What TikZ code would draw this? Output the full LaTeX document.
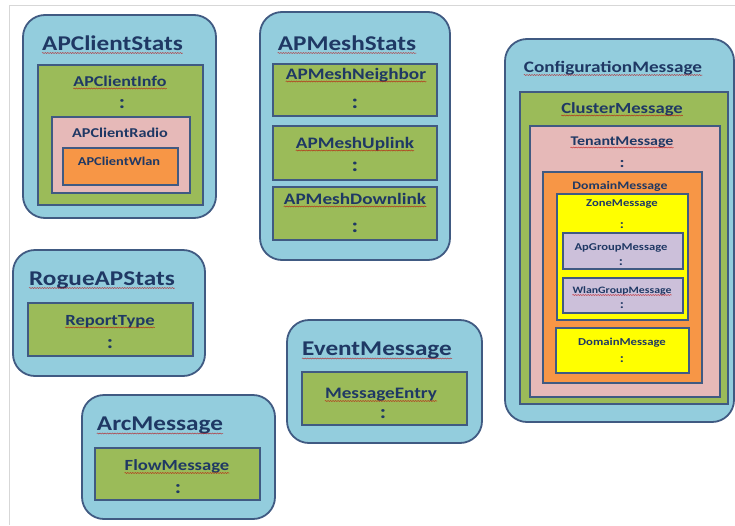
\documentclass[tikz,border=0pt]{standalone}
\usepackage{fontspec}
\setmainfont{Carlito}[FakeStretch=1.2]
\usetikzlibrary{fit,decorations.pathmorphing}
\definecolor{cBlue}{RGB}{147,205,221}
\definecolor{cGreen}{RGB}{155,187,89}
\definecolor{cPink}{RGB}{230,185,184}
\definecolor{cOrange}{RGB}{247,150,70}
\definecolor{cYellow}{RGB}{255,255,0}
\definecolor{cLav}{RGB}{204,192,218}
\definecolor{cEdge}{RGB}{64,90,130}
\definecolor{cText}{RGB}{31,56,100}
\definecolor{cFrame}{RGB}{215,215,215}
\tikzset{
  outerbox/.style={draw=cEdge, line width=1.8pt, fill=cBlue, rounded corners=22pt, inner sep=0pt},
  greenbox/.style={draw=cEdge, line width=1.6pt, fill=cGreen, inner sep=0pt},
  pinkbox/.style={draw=cEdge, line width=1.6pt, fill=cPink, inner sep=0pt},
  orangebox/.style={draw=cEdge, line width=1.6pt, fill=cOrange, inner sep=0pt},
  yellowbox/.style={draw=cEdge, line width=1.6pt, fill=cYellow, inner sep=0pt},
  lavbox/.style={draw=cEdge, line width=1.6pt, fill=cLav, inner sep=0pt},
  fs/.style={font=\fontsize{#1}{#1}\selectfont\bfseries, text=cText, inner sep=0pt, anchor=base},
  squig/.style={draw=red!75!black, line width=0.5pt, opacity=0.7,
    decorate, decoration={snake, amplitude=0.5pt, segment length=2.5pt}}
}
\newcommand\bx[6]{\node[#2, fit={(#3,#4)(#5,#6)}] (#1) {};}
\newcommand\sq[2]{\draw[squig] ([yshift=-#2pt]#1.base west) -- ([yshift=-#2pt]#1.base east);}
\begin{document}
\begin{tikzpicture}[x=1pt,y=-1pt]
\useasboundingbox (0,0) rectangle (735,525);
\fill[white] (0,0) rectangle (735,525);
% frame lines
\coordinate (f1) at (9,525);
\coordinate (f2) at (9,5);
\coordinate (f3) at (735,5);
\draw[cFrame, line width=1pt] (f1) -- (f2) -- (f3);

% APClientStats
\bx{acs}{outerbox}{23}{15}{216}{218}
\bx{aci}{greenbox}{38}{65}{203}{205}
\bx{acr}{pinkbox}{52}{117}{190}{193}
\bx{acw}{orangebox}{63}{148}{178}{185}
\node[fs=21] (tacs) at (112.5,50) {APClientStats};
\node[fs=15] (taci) at (120,86) {APClientInfo};
\node[fs=19] (caci) at (122,108) {:};
\node[fs=13.5] (tacr) at (120,137) {APClientRadio};
\node[fs=12] (tacw) at (119,165) {APClientWlan};
\sq{tacs}{3}\sq{taci}{2.5}

% APMeshStats
\bx{ams}{outerbox}{260}{12}{450}{260}
\bx{amn}{greenbox}{273}{64}{437}{116}
\bx{amu}{greenbox}{273}{126}{437}{180}
\bx{amd}{greenbox}{273}{187}{437}{240}
\node[fs=21] (tams) at (347,50) {APMeshStats};
\node[fs=16] (tamn) at (356,79) {APMeshNeighbor};
\node[fs=20] (camn) at (355,108) {:};
\node[fs=16] (tamu) at (355,148) {APMeshUplink};
\node[fs=20] (camu) at (355,171) {:};
\node[fs=16] (tamd) at (355,204) {APMeshDownlink};
\node[fs=20] (camd) at (355,232) {:};
\sq{tams}{3}\sq{tamn}{2.5}\sq{tamu}{2.5}\sq{tamd}{2.5}

% ConfigurationMessage
\bx{cfg}{outerbox}{505}{39}{734}{422}
\bx{clu}{greenbox}{520}{92}{728}{404}
\bx{ten}{pinkbox}{530}{126}{720}{397}
\bx{dom}{orangebox}{543}{172}{702}{383}
\bx{zon}{yellowbox}{557}{194}{688}{320}
\bx{apg}{lavbox}{563}{233}{683}{269}
\bx{wlg}{lavbox}{563}{278}{683}{313}
\bx{dm2}{yellowbox}{556}{328}{689}{373}
\node[fs=16] (tcfg) at (613,72) {ConfigurationMessage};
\node[fs=15.5] (tclu) at (622,113) {ClusterMessage};
\node[fs=13.3] (tten) at (622,145) {TenantMessage};
\node[fs=15] (cten) at (622,167) {:};
\node[fs=11.5] (tdom) at (620,189) {DomainMessage};
\node[fs=10.5] (tzon) at (622,206) {ZoneMessage};
\node[fs=12.5] (czon) at (622,228) {:};
\node[fs=10.5] (tapg) at (621,250) {ApGroupMessage};
\node[fs=12.5] (capg) at (621,265) {:};
\node[fs=9.8] (twlg) at (622,293) {WlanGroupMessage};
\node[fs=12.5] (cwlg) at (622,308) {:};
\node[fs=10.6] (tdm2) at (622,345) {DomainMessage};
\node[fs=12.5] (cdm2) at (622,362) {:};
\sq{tcfg}{3}\sq{tclu}{2.5}\sq{tten}{2.5}\sq{twlg}{2}

% RogueAPStats
\bx{rog}{outerbox}{13}{250}{205}{376}
\bx{rep}{greenbox}{28}{303}{193}{356}
\node[fs=21] (trog) at (102,285) {RogueAPStats};
\node[fs=15.5] (trep) at (110,325) {ReportType};
\node[fs=19] (crep) at (110,348) {:};
\sq{trog}{3}\sq{trep}{2.5}

% ArcMessage
\bx{arc}{outerbox}{82}{395}{275}{519}
\bx{flo}{greenbox}{95}{448}{260}{500}
\node[fs=21] (tarc) at (160,430) {ArcMessage};
\node[fs=15.5] (tflo) at (177,470) {FlowMessage};
\node[fs=19] (cflo) at (178,493) {:};
\sq{tarc}{3.5}\sq{tflo}{3}

% EventMessage
\bx{evt}{outerbox}{287}{320}{482}{443}
\bx{ent}{greenbox}{302}{372}{467}{425}
\node[fs=21] (tevt) at (377,355) {EventMessage};
\node[fs=16] (tent) at (381,398) {MessageEntry};
\node[fs=19] (cent) at (383,418) {:};
\sq{tevt}{3.5}\sq{tent}{3}
\end{tikzpicture}
\end{document}
